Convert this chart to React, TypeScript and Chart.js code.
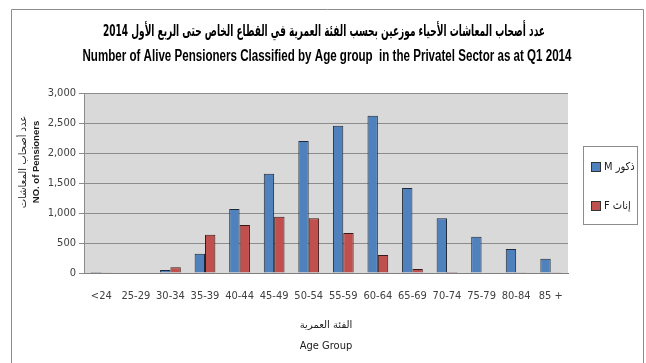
import React, { useEffect, useRef } from "react";
import { Chart, registerables } from "chart.js";

Chart.register(...registerables);

const categories = ["<24", "25-29", "30-34", "35-39", "40-44", "45-49", "50-54", "55-59", "60-64", "65-69", "70-74", "75-79", "80-84", "85 +"];
const maleValues = [15, 8, 50, 322, 1067, 1656, 2200, 2456, 2622, 1417, 911, 606, 400, 239];
const femaleValues = [3, 8, 95, 639, 800, 939, 911, 667, 300, 67, 15, 10, 5, 5];
const seriesLabels = ["M ذكور", "F إناث"];
const titleLines = ["عدد أصحاب المعاشات الأحياء موزعين بحسب الفئة العمرية في القطاع الخاص حتى الربع الأول 2014", "Number of Alive Pensioners Classified by Age group  in the Privatel Sector as at Q1 2014"];
const yTitleLines = ["عدد أصحاب المعاشات", "NO. of Pensioners"];
const xTitleLines = ["الفئة العمرية", "Age Group"];

const FONT = '"Liberation Sans Narrow", "DejaVu Sans Condensed", Arial, sans-serif';

const decorPlugin = {
  id: "decor",
  beforeDraw(chart: any) {
    const { ctx, chartArea } = chart;
    ctx.save();
    ctx.fillStyle = "#ffffff";
    ctx.fillRect(0, 0, chart.width, chart.height);
    ctx.strokeStyle = "#8c8c8c";
    ctx.lineWidth = 1;
    ctx.beginPath();
    ctx.moveTo(11.5, chart.height + 2);
    ctx.lineTo(11.5, 9.5);
    ctx.lineTo(643.5, 9.5);
    ctx.lineTo(643.5, chart.height + 2);
    ctx.stroke();
    ctx.fillStyle = "#d9d9d9";
    ctx.fillRect(chartArea.left, chartArea.top, chartArea.right - chartArea.left, chartArea.bottom - chartArea.top);
    ctx.restore();
  },
  afterDraw(chart: any) {
    const { ctx, chartArea } = chart;
    ctx.save();
    ctx.textAlign = "center";
    ctx.textBaseline = "middle";
    // chart title
    ctx.fillStyle = "#000";
    ctx.font = 'bold 16px "DejaVu Sans", sans-serif';
    ctx.fillText(titleLines[0], 324, 32, 442);
    ctx.font = 'bold 16px "Liberation Sans", Arial, sans-serif';
    ctx.fillText(titleLines[1], 327, 57, 489);
    // y-axis title
    ctx.fillStyle = "#1a1a1a";
    ctx.save();
    ctx.translate(23, 162);
    ctx.rotate(-Math.PI / 2);
    ctx.font = '10px "DejaVu Sans", sans-serif';
    ctx.fillText(yTitleLines[0], 0, 0);
    ctx.restore();
    ctx.save();
    ctx.translate(36, 162);
    ctx.rotate(-Math.PI / 2);
    ctx.font = 'bold 9.5px "Liberation Sans", Arial, sans-serif';
    ctx.fillText(yTitleLines[1], 0, 0);
    ctx.restore();
    // x-axis title
    const cx = (chartArea.left + chartArea.right) / 2;
    ctx.font = '10px "DejaVu Sans", sans-serif';
    ctx.fillText(xTitleLines[0], cx, 325);
    ctx.font = "11px " + FONT;
    ctx.fillText(xTitleLines[1], cx, 346);
    // legend
    const bx = 583.5, by = 146.5, bw = 54, bh = 78;
    ctx.strokeStyle = "#8c8c8c";
    ctx.lineWidth = 1;
    ctx.fillStyle = "#ffffff";
    ctx.fillRect(bx, by, bw, bh);
    ctx.strokeRect(bx, by, bw, bh);
    const ys = [167, 206];
    chart.data.datasets.forEach((ds: any, i: number) => {
      const y = ys[i];
      ctx.fillStyle = ds.backgroundColor;
      ctx.fillRect(592, y - 4, 8, 8);
      ctx.strokeStyle = "#333";
      ctx.strokeRect(591.5, y - 4.5, 9, 9);
      ctx.fillStyle = "#1a1a1a";
      ctx.textAlign = "left";
      ctx.font = "11px " + FONT;
      ctx.fillText(ds.label, 604, y);
    });
    ctx.restore();
  },
};

export default function App() {
  const ref = useRef<HTMLCanvasElement>(null);
  useEffect(() => {
    document.body.style.margin = "0";
    const chart = new Chart(ref.current as HTMLCanvasElement, {
      type: "bar",
      data: {
        labels: categories,
        datasets: [
          { label: seriesLabels[0], data: maleValues, backgroundColor: "#4f81bd", borderColor: "#1e2a38", borderWidth: 1, categoryPercentage: 0.6, barPercentage: 1 },
          { label: seriesLabels[1], data: femaleValues, backgroundColor: "#c0504d", borderColor: "#3a1a19", borderWidth: 1, categoryPercentage: 0.6, barPercentage: 1 },
        ],
      },
      options: {
        responsive: false,
        animation: false,
        layout: { padding: { left: 44, right: 78, top: 93, bottom: 60 } },
        plugins: {
          legend: { display: false },
          tooltip: { enabled: false },
          title: { display: false },
        },
        scales: {
          x: {
            grid: { display: false, drawTicks: false },
            border: { display: true, color: "#7f7f7f", width: 1 },
            ticks: { color: "#404040", font: { family: FONT, size: 11 }, padding: 17, maxRotation: 0, autoSkip: false },
            afterFit: (s: any) => { s.height = 30; },
          },
          y: {
            min: 0,
            max: 3000,
            grid: { color: "#8c8c8c", tickLength: 5, tickColor: "#8c8c8c" },
            border: { display: true, color: "#8c8c8c" },
            ticks: {
              stepSize: 500,
              color: "#404040",
              padding: 3,
              font: { family: FONT, size: 11 },
              callback: (v: any) => Number(v).toLocaleString("en-US"),
            },
            afterFit: (s: any) => { s.width = 40; },
          },
        },
      },
      plugins: [decorPlugin],
    });
    return () => chart.destroy();
  }, []);
  return (
    <div style={{ position: "absolute", left: 0, top: 0, width: 646, height: 363 }}>
      <canvas ref={ref} width={646} height={363} />
    </div>
  );
}
